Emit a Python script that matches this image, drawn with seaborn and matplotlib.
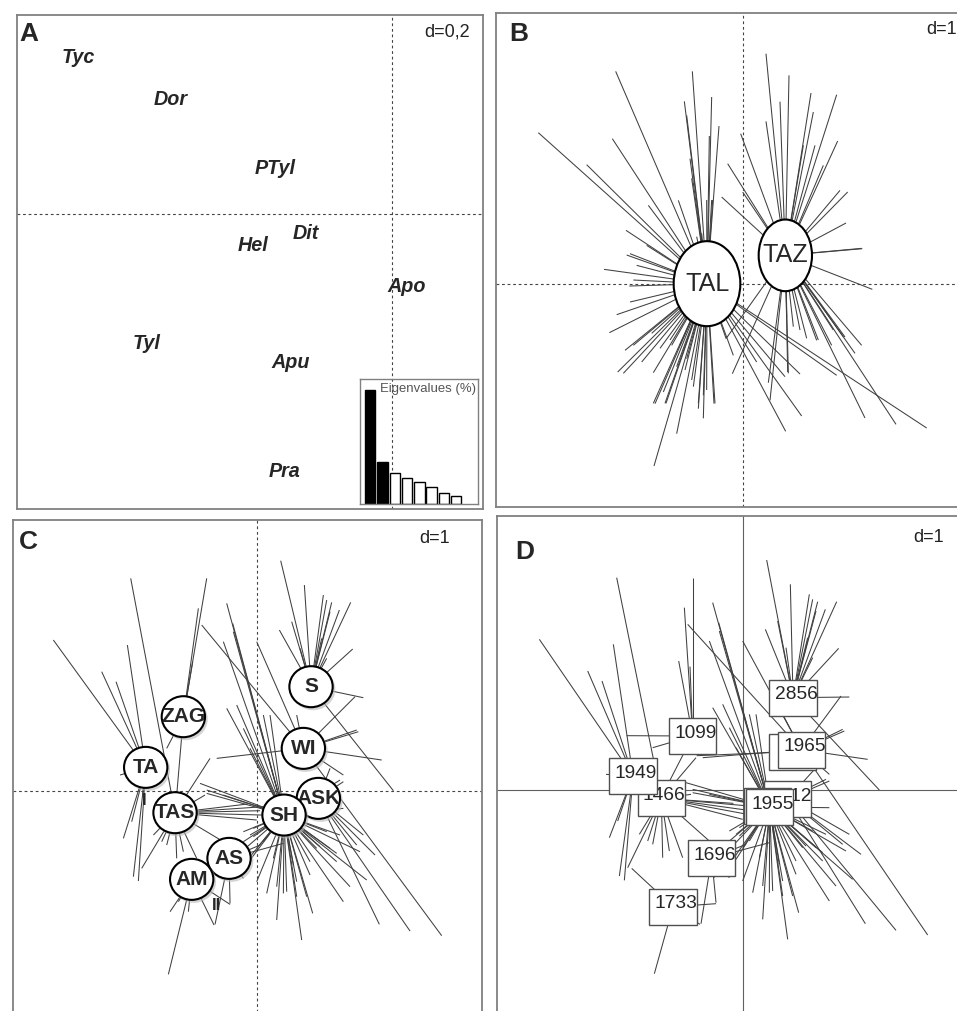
import matplotlib
matplotlib.use("Agg")
import numpy as np
import pandas as pd
import matplotlib.pyplot as plt
import seaborn as sns
from matplotlib import font_manager
from matplotlib.collections import LineCollection
from matplotlib.patches import Ellipse, Rectangle

sns.set_style("white")
_names = {f.name for f in font_manager.fontManager.ttflist}
if "Liberation Sans Narrow" in _names:
    NARROW, SHRINK = "Liberation Sans Narrow", 1.0
else:
    # no condensed face installed: keep label widths close by shrinking the size
    NARROW, SHRINK = "Liberation Sans", 0.86
plt.rcParams["font.family"] = ["Liberation Sans", "DejaVu Sans"]

LINE_COLOR = "#404040"
FRAME_COLOR = "#808080"

# ── A: species scores + eigenvalues ───────────────────────────────────────────
SPECIES = ["Tyc", "Dor", "PTyl", "Hel", "Dit", "Apo", "Tyl", "Apu", "Pra"]
SPECIES_X = [-940, -663, -351, -417, -258, 45, -736, -303, -320]
SPECIES_Y = [470, 343, 135, -95, -58, -218, -390, -445, -773]
EIGEN_PCT = [42.1, 15.6, 11.4, 9.5, 8.2, 6.2, 4.2, 2.8]
EIGEN_KEPT = 2

# ── B: two localities ────────────────────────────────────────────────────────
B_GROUPS = ["TAL", "TAZ"]
B_CX = [-109, 126]
B_CY = [0, 85]
B_TAL = [(-615, 453), (-470, 357), (-383, 637), (-393, 435), (-352, 160), (-340, 90),
         (-418, 43), (-342, -7), (-380, -93), (-402, -147), (-355, -200), (-377, -265),
         (-268, -547), (-265, -360), (-200, -450), (-135, -375), (-88, -360), (-153, 637),
         (-177, 547), (-170, 505), (-95, 560), (-73, 473), (-102, 443), (-160, 375),
         (-195, 250), (-285, 235), (-290, 115), (-240, -325), (-305, -235), (-330, -185),
         (550, -433), (175, -397), (127, -443), (280, -275), (40, -235), (-30, -215),
         (-170, -225), (-215, -185), (-340, -55), (-320, 55), (-120, -335), (-120, -404),
         (-85, -359), (-135, -359), (-235, -359), (-270, -359), (-360, -269), (170, -271),
         (125, -279), (-52, -164), (-95, 251), (-125, 151), (-232, -359), (-150, -309),
         (-270, -267), (-250, -194), (-275, -149), (-200, -249), (-175, -259), (-110, -319),
         (-155, -289), (-190, -184), (-220, -169), (-155, 316), (-92, 251), (-110, 251),
         (-140, 141), (-350, 86), (-330, 11)]
B_TAZ = [(68, 690), (137, 625), (203, 572), (280, 567), (283, 428), (215, 415), (290, 280),
         (313, 275), (308, 182), (357, 105), (387, -17), (355, -185), (305, -160), (265, -185),
         (220, -170), (133, -265), (80, -350), (-33, -270), (-52, -165), (-8, 450), (-47, 360),
         (-65, 260), (68, 487), (-2, 275), (458, -422), (365, -403), (210, 515), (180, 415),
         (240, 355), (335, -209), (300, -159), (225, -169), (190, -164), (135, -269),
         (75, -297), (355, 106), (110, 546), (270, -139), (170, -139), (150, -129), (130, -99)]

# ── C: populations (same individuals as D) ───────────────────────────────────
C_GROUPS = ["S", "WI", "ASK", "SH", "ZAG", "TA", "TAS", "AS", "AM"]
C_CX = [161, 138, 183, 80, -222, -335, -247, -85, -197]
C_CY = [312, 127, -23, -73, 222, 70, -66, -203, -266]
C_S = [(70, 690), (141, 617), (198, 587), (223, 565), (246, 542), (280, 565), (286, 425),
       (103, 507), (66, 482), (128, 427), (208, 397), (408, 0), (318, 279), (208, 572),
       (218, 537), (193, 457)]
C_WI = [(-122, 97), (373, 92), (303, 177), (-2, 447), (-167, 497), (553, -435), (258, 47),
        (118, 227), (298, 182), (293, 282)]
C_ASK = [(318, -133), (353, -193), (298, -163), (258, 27), (218, 67), (366, -401), (458, -421)]
C_SH = [(-92, 562), (-74, 502), (-102, 447), (-62, 257), (-92, 247), (-42, 187), (-152, -8),
        (-102, -13), (-42, -153), (-2, -173), (58, -388), (133, -448), (166, -368), (258, -333),
        (118, -273), (88, -303), (-2, -273), (238, -213), (308, -183), (158, -253), (18, 227),
        (-22, 127), (208, -123), (-42, -223), (258, -53), (178, -173), (-22, -133), (18, -153),
        (48, -203), (108, -223), (158, -213), (218, -173), (248, -133), (-12, -113), (-42, -123),
        (-72, 477), (38, 227), (-172, 22), (-152, 2), (78, -308), (118, -318), (148, -318),
        (28, -308), (58, -288), (-22, -208), (188, -168), (238, -188), (328, -268), (278, -288),
        (-12, -138), (-42, -178), (248, 32)]
C_ZAG = [(-152, 637), (-177, 547), (-194, 387), (-242, -13), (-272, 127)]
C_TA = [(-612, 452), (-467, 357), (-390, 437), (-424, 327), (-412, 47), (-402, -143),
        (-372, -258), (-357, -271), (-344, -13), (-377, -93)]
C_TAS = [(-380, 637), (-347, -233), (-287, -153), (-272, -163), (-222, -183), (-182, -203),
         (18, -48), (13, -73), (-2, -88), (-102, -153), (-142, 97), (-157, -13), (-312, -133),
         (-242, -203), (8, -60), (-30, -40)]
C_AS = [(-42, -248), (-87, -263), (-82, -338), (-127, -401), (78, -158), (8, -163), (-22, -223),
        (-42, -263)]
C_AM = [(-267, -551), (-262, -363), (-207, -363), (-82, -341), (-237, -333), (-130, -403)]
C_POINTS = [C_S, C_WI, C_ASK, C_SH, C_ZAG, C_TA, C_TAS, C_AS, C_AM]
C_MINOR = ["II", "I"]
C_MINOR_X = [-122, -340]
C_MINOR_Y = [-343, -28]

# ── D: samples, drawn in overlap order ───────────────────────────────────────
D_LABELS = ["2856", "1099", "1466", "1949", "", "1965", "1912", "", "1955", "1696", "1733"]
D_CX = [149, -152, -246, -331, 147, 174, 133, 73, 79, -95, -211]
D_CY = [277, 162, -25, 42, 115, 121, -27, -48, -51, -204, -350]
D_POINTS = [C_S, C_ZAG + [(-160, 370), (-350, 163)], C_TAS, C_TA, [(-140, 103)], C_WI,
            C_ASK, [(40, -30)], C_SH, C_AS, C_AM + [(-335, -235)]]


def panel(rect, xlim, ylim, solid=False):
    ax = fig.add_axes(rect)
    ax.set_xlim(*xlim)
    ax.set_ylim(*ylim)
    ax.set_xticks([])
    ax.set_yticks([])
    for sp in ax.spines.values():
        sp.set_color(FRAME_COLOR)
        sp.set_linewidth(1.3)
    ls = "-" if solid else (0, (2.5, 2.5))
    col = "#606060" if solid else "#444444"
    ax.axhline(0, color=col, lw=0.8, ls=ls, zorder=1)
    ax.axvline(0, color=col, lw=0.8, ls=ls, zorder=1)
    return ax


def star(ax, cx, cy, pts):
    segs = [[(cx, cy), p] for p in pts]
    ax.add_collection(LineCollection(segs, colors=LINE_COLOR, linewidths=0.75, zorder=2))


def fs(size):
    return size * SHRINK


fig = plt.figure(figsize=(9.57, 10.11), dpi=100)

# A
axA = panel([16.7 / 957, 1 - 508.7 / 1011, 466.6 / 957, 494 / 1011], (-1125, 275), (-885, 597))
for name, x, y in zip(SPECIES, SPECIES_X, SPECIES_Y):
    axA.text(x, y, name, ha="center", va="center", fontsize=fs(16.5), fontweight="bold",
             style="italic", family=NARROW)
axA.text(-1088, 540, "A", fontsize=fs(22), fontweight="bold", family=NARROW, ha="center",
         va="center")
axA.text(167, 545, "d=0,2", fontsize=13, ha="center", va="center", color="#222222")

ins = fig.add_axes([360 / 957, 1 - 504 / 1011, 118 / 957, 125 / 1011])
ins.patch.set_alpha(0)
eig = pd.DataFrame({"axis": [str(i + 1) for i in range(len(EIGEN_PCT))], "pct": EIGEN_PCT})
pal = {a: ("black" if i < EIGEN_KEPT else "white") for i, a in enumerate(eig["axis"])}
sns.barplot(data=eig, x="axis", y="pct", hue="axis", palette=pal, legend=False,
            edgecolor="black", linewidth=1, width=0.84, ax=ins)
ins.set_xlim(-0.84, 8.78)
ins.set_ylim(0, 46.2)
ins.set_xticks([])
ins.set_yticks([])
ins.set_xlabel("")
ins.set_ylabel("")
for sp in ins.spines.values():
    sp.set_color(FRAME_COLOR)
    sp.set_linewidth(1.0)
ins.text(0.985, 0.965, "Eigenvalues (%)", transform=ins.transAxes, ha="right", va="top",
         fontsize=fs(11), color="#555555", family=NARROW)

# B
axB = panel([496 / 957, 1 - 507 / 1011, 472 / 957, 494.3 / 1011], (-742, 674), (-670, 813))
for cx, cy, pts in zip(B_CX, B_CY, [B_TAL, B_TAZ]):
    star(axB, cx, cy, pts)
for name, cx, cy, (w, h) in zip(B_GROUPS, B_CX, B_CY, [(200, 255), (160, 215)]):
    axB.add_patch(Ellipse((cx, cy), w, h, facecolor="white", edgecolor="black", lw=1.5, zorder=4))
    axB.text(cx, cy, name, ha="center", va="center", fontsize=fs(21), family=NARROW, zorder=5)
axB.text(-675, 750, "B", fontsize=fs(22), fontweight="bold", family=NARROW, ha="center",
         va="center")
axB.text(550, 762, "d=1", fontsize=13, ha="left", va="center", color="#222222")

# C
axC = panel([12.7 / 957, 1 - 1013.7 / 1011, 469 / 957, 494 / 1011], (-734, 673), (-669, 813))
for cx, cy, pts in zip(C_CX, C_CY, C_POINTS):
    star(axC, cx, cy, pts)
for i, (name, cx, cy) in enumerate(zip(C_GROUPS, C_CX, C_CY)):
    z = 4 + 3 * i
    axC.add_patch(Ellipse((cx + 6, cy - 7), 134, 127, facecolor="#b8b8b8", edgecolor="none",
                          alpha=0.6, zorder=z))
    axC.add_patch(Ellipse((cx, cy), 130, 123, facecolor="white", edgecolor="black", lw=1.5,
                          zorder=z + 1))
    axC.text(cx, cy, name, ha="center", va="center", fontsize=fs(17.5), fontweight="bold",
             family=NARROW, zorder=z + 2)
for name, x, y in zip(C_MINOR, C_MINOR_X, C_MINOR_Y):
    axC.text(x, y, name, ha="center", va="center", fontsize=fs(14), fontweight="bold",
             family=NARROW, zorder=3)
axC.text(-687, 747, "C", fontsize=fs(22), fontweight="bold", family=NARROW, ha="center",
         va="center")
axC.text(533, 757, "d=1", fontsize=13, ha="center", va="center", color="#222222")

# D
axD = panel([496.7 / 957, 1 - 1013.7 / 1011, 471.3 / 957, 497.7 / 1011], (-740, 674), (-671, 822),
            solid=True)
for cx, cy, pts in zip(D_CX, D_CY, D_POINTS):
    star(axD, cx, cy, pts)
for i, (name, cx, cy) in enumerate(zip(D_LABELS, D_CX, D_CY)):
    z = 4 + 2 * i
    axD.add_patch(Rectangle((cx - 71, cy - 54), 142, 108, facecolor="white", edgecolor="#505050",
                            lw=1.0, zorder=z))
    if name:
        axD.text(cx + 9, cy + 9, name, ha="center", va="center", fontsize=fs(16), family=NARROW,
                 zorder=z + 1)
axD.text(-657, 715, "D", fontsize=fs(22), fontweight="bold", family=NARROW, ha="center",
         va="center")
axD.text(555, 757, "d=1", fontsize=13, ha="center", va="center", color="#222222")

fig.savefig("out.png", dpi=100)
